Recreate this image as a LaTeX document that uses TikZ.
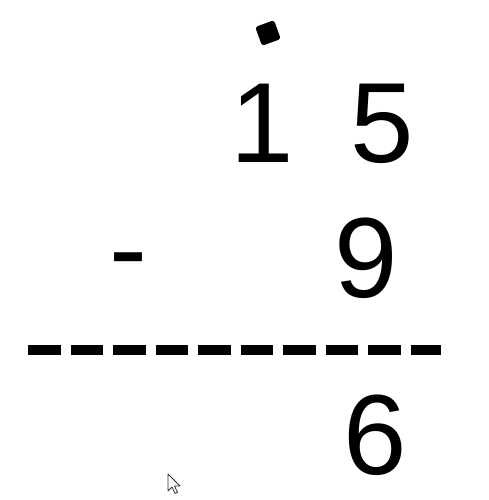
\documentclass[tikz,border=0pt]{standalone}
\usepackage{fontspec}
\setmainfont{Liberation Sans}
\begin{document}
\begin{tikzpicture}[x=1pt,y=1pt,
  digit/.style={inner sep=0pt, anchor=base, font=\fontsize{114}{114}\selectfont},
  borrowdot/.style={fill=black, draw=black, line width=2pt, rounded corners=2pt, minimum size=18pt, inner sep=0pt, rotate=20},
  sumline/.style={line width=10pt, dash pattern=on 32.5pt off 10pt},
  pointer/.style={draw=black!80, fill=white, line width=0.8pt, line join=round}]
\useasboundingbox (0,0) rectangle (489,500);
\fill[white] (0,0) rectangle (489,500);
\node[borrowdot] (dot) at (268,467) {};
\node[digit] (one) at (262,337) {1};
\node[digit] (five) at (382,337) {5};
\node[digit] (minus) at (128,212) {-};
\node[digit] (nine) at (366,202) {9};
\coordinate (lineL) at (28,150);
\coordinate (lineR) at (441,150);
\draw[sumline] (lineL) -- (lineR);
\node[digit] (six) at (375,25) {6};
\draw[pointer] (168,26) -- (168,9) -- (172,13) -- (175,6.5) -- (177.5,7.5) -- (174.5,14) -- (180,14) -- cycle;
\end{tikzpicture}
\end{document}
